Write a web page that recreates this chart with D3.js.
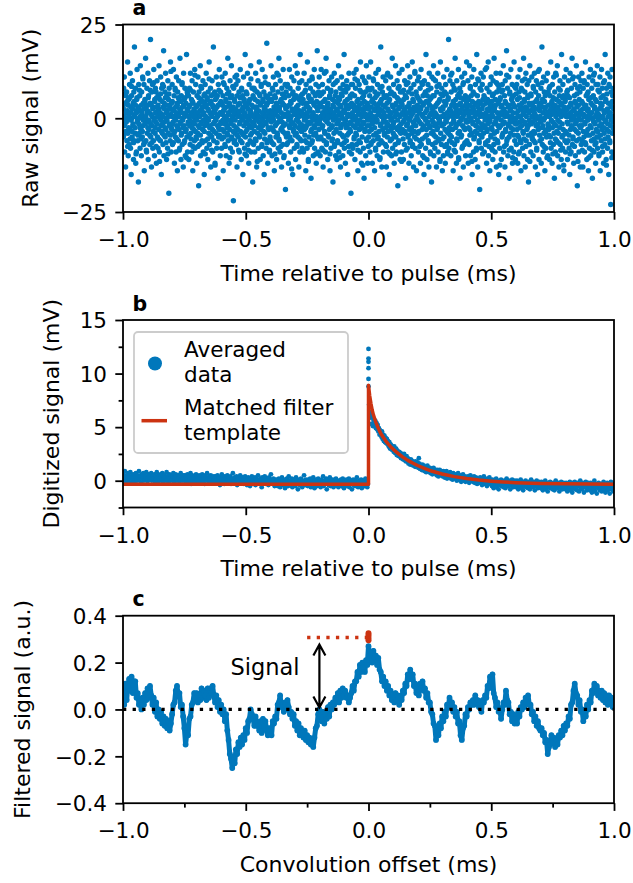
<!DOCTYPE html>
<html><head><meta charset="utf-8">
<script src="https://cdn.jsdelivr.net/npm/d3@7"></script>
<style>body{margin:0;background:#fff}text{font-family:"DejaVu Sans",sans-serif;fill:#000}</style>
</head><body><svg id="fig" width="633" height="883"></svg>
<script>
// ---------- DATA ----------
const xTicks = [-1, -0.5, 0, 0.5, 1];
const aTicks = [-25, 0, 25];
const bTicks = [0, 5, 10, 15];
const bMinorY = [-2.5, 2.5, 7.5, 12.5];
const cTicks = [-0.4, -0.2, 0, 0.2, 0.4];
const cMinorX = [-0.75, -0.25, 0.25, 0.75];

// panel a: raw signal (mV); two interleaved sample sets, each evenly spread over -1 ... 1 ms
const rawSignal = [
3,-5,8,-2,11,-9,0,4,-13,6,-1,7,-6,2,15,-4,-10,5,1,-7,9,-3,12,-8,3,-15,6,0,-5,10,-2,4,-11,7,-6,19,1,-4,8,-12,2,-9,5,13,-1,-6,3,-17,9,0,
-4,6,-8,14,2,-3,-10,7,1,-5,11,-2,4,-7,9,-14,0,5,-1,16,-6,3,-9,8,-4,2,12,-11,6,-3,-1,10,-7,4,21,-5,1,-13,7,-2,9,-8,3,-6,13,0,-10,5,-4,8,
-1,7,-12,3,10,-5,2,-8,6,-3,14,-9,0,5,-6,11,-2,-15,8,1,-4,9,-7,3,18,-10,4,-1,7,-5,12,-3,0,-11,6,2,-8,10,-4,5,-20,8,-2,3,-6,15,1,-9,4,-3,
9,-7,2,-1,13,-4,6,-12,0,8,-5,3,-9,11,-2,4,-14,7,1,-6,10,-3,5,-8,16,-1,2,-11,6,-4,9,-7,3,0,-13,12,-2,5,-6,8,-10,1,4,-3,17,-5,7,-9,2,-1,
6,-11,3,8,-2,-7,12,-4,1,5,-9,10,-1,-14,4,7,-3,2,-6,13,-8,0,9,-5,3,-12,6,1,-4,11,-2,-18,7,4,-7,2,14,-10,5,-1,8,-6,3,-3,10,-9,1,6,-15,4,
-2,9,-6,3,12,-1,-8,5,0,-11,7,2,-4,15,-7,4,-2,8,-13,1,6,-5,10,-3,-9,3,19,-6,2,-1,7,-12,5,0,-4,11,-8,3,6,-2,-16,9,-5,1,13,-3,4,-10,7,-1,
4,-8,11,-3,1,6,-14,2,-5,9,0,-7,12,-1,5,-10,3,8,-4,-2,16,-6,1,7,-12,4,-3,10,-8,2,-1,14,-5,6,-9,0,3,-22,8,-2,5,-6,11,-4,1,9,-7,2,-13,6,
-3,10,-5,1,7,-9,4,-1,13,-6,2,-11,8,0,-4,6,-15,3,11,-2,5,-8,1,17,-5,-1,7,-10,3,-3,12,-7,4,0,-12,9,-2,5,-6,2,14,-9,1,-4,8,-1,-17,6,3,-7,
8,-2,-9,5,0,12,-6,3,-13,7,1,-4,10,-8,2,-1,15,-5,6,-11,4,-3,9,0,-7,13,-2,5,-10,1,7,-15,3,-4,11,-1,6,-8,2,20,-6,4,-12,0,9,-3,5,-9,1,-5,
2,-6,14,-1,5,-10,8,-3,0,11,-7,3,-14,6,1,-2,9,-5,4,-11,12,-4,2,7,-8,-1,16,-6,3,-9,10,0,-3,5,-13,8,-1,4,-7,13,-2,6,-10,1,-4,9,-19,3,7,-5,
-7,3,9,-4,1,-12,6,-2,13,-5,8,0,-9,4,-1,11,-6,2,-15,7,-3,5,10,-8,1,-2,14,-11,6,-4,3,-7,12,0,-5,8,-1,-13,5,2,-9,17,-3,6,-6,1,10,-8,4,-2,
5,-9,1,12,-3,7,-6,0,-14,9,-2,4,-8,15,-1,3,-11,6,-5,10,2,-7,8,-1,-16,5,-3,11,-6,1,7,-10,4,-2,13,-8,0,6,-4,9,-12,3,-1,18,-5,2,-9,7,-3,11,
-1,6,-10,4,-5,13,0,-8,3,9,-2,-13,7,1,-6,12,-4,5,-9,2,16,-7,3,-1,8,-11,4,0,-5,10,-3,6,-14,2,7,-8,1,11,-6,-2,5,-17,9,3,-4,12,-7,0,6,-10,
7,-3,2,-11,10,-6,4,-1,14,-9,1,5,-4,8,-13,3,-2,11,-7,6,0,-10,9,-5,2,17,-8,4,-1,-12,7,3,-6,10,-2,5,-15,8,1,-4,12,-9,3,-3,6,-1,-20,9,4,-7,
1,9,-8,3,-2,12,-5,6,-11,0,8,-4,13,-7,2,-1,10,-14,5,3,-6,9,-3,1,-9,15,-2,7,-12,4,-5,11,-1,2,-8,6,-16,10,3,-3,7,-10,1,14,-6,4,-2,-12,8,0,
-5,11,-2,6,-9,1,15,-7,3,-3,8,-12,5,0,-6,10,-1,4,-14,7,2,-8,12,-4,6,-1,-10,9,3,-5,13,-7,1,4,-11,8,-2,19,-6,5,-13,2,7,-3,11,-9,0,6,-4,-1,
3,-7,10,-1,-13,6,4,-5,12,-9,2,-2,8,-15,5,1,-6,11,-3,7,-10,0,16,-8,3,-4,9,-1,-12,6,2,-7,14,-5,4,-9,1,10,-3,-18,8,5,-6,12,-2,3,-11,7,-4,1,
-9,4,13,-3,7,-1,-11,5,2,-7,10,-4,6,-16,1,9,-2,3,-8,14,-5,0,7,-12,4,-3,11,-6,2,8,-10,1,-4,15,-7,5,-1,-13,9,3,-5,12,-8,2,-2,7,-14,6,0,10,
-4,2,-9,11,5,-1,-6,8,-12,3,13,-7,1,-3,9,-10,6,-2,4,-15,10,0,-5,7,-8,17,-3,2,-11,6,-1,9,-6,4,-13,12,-2,5,-9,1,8,-4,-17,11,3,-7,6,-1,14,-10,
6,-2,-8,3,10,-5,1,-13,7,-3,4,12,-9,0,-6,9,-1,5,-11,15,-4,2,-7,8,-2,-14,6,3,-10,11,-5,1,7,-3,-12,9,4,-1,-7,13,0,-9,5,-4,21,-8,2,-6,10,-3,
2,-10,7,-5,12,1,-3,9,-14,4,-1,8,-7,3,16,-9,5,-2,-12,10,-6,1,6,-4,13,-11,2,-1,8,-16,4,7,-5,0,11,-8,3,-2,9,-13,5,1,-7,12,-3,6,-10,2,-1,15,
-6,3,-1,10,-12,5,2,-7,14,-3,8,-10,0,6,-4,11,-15,3,-1,7,-9,13,2,-5,4,-11,9,-2,1,-8,17,-4,6,-13,3,-1,10,-6,2,-19,8,4,-3,12,-8,1,-5,9,-2,5,
11,-4,6,-9,1,-2,13,-7,4,0,-12,8,-3,5,-6,15,-10,2,7,-1,-14,9,3,-5,11,-8,1,-3,6,-11,10,2,-7,16,-4,3,-9,5,-1,12,-13,7,0,-6,9,-2,4,-15,8,1,
-8,5,12,-2,3,-11,7,-5,9,1,-4,14,-9,2,-1,6,-13,10,-3,4,-7,18,-6,1,8,-10,3,-2,11,-5,-16,7,2,-4,13,-8,5,-1,9,-12,4,-3,6,-9,15,0,-6,3,-11,8,
0,-7,9,-3,5,-12,11,2,-5,7,-9,-1,13,-6,3,-14,8,-2,4,10,-8,1,-4,16,-10,5,-1,7,-13,3,12,-6,2,-3,9,-11,6,-2,-17,10,4,-7,14,-1,2,-9,6,-4,11,-5,
4,-1,-10,8,-6,3,12,-4,1,-13,7,-2,10,-8,5,0,-15,9,-3,6,-11,13,2,-6,4,-1,8,-12,3,19,-7,5,-2,-9,11,-4,7,0,-14,6,3,-8,10,-5,1,-3,12,-10,7,-2,
-3,8,-11,2,6,-5,15,-8,1,4,-12,9,-1,3,-7,11,-4,-16,7,2,-9,12,-2,5,-6,1,14,-10,3,-4,8,-13,6,-1,10,-7,2,4,-11,17,-5,1,-8,9,-3,6,-14,3,11,-6,
5,-9,2,13,-4,7,-1,-11,6,-6,10,3,-8,1,-15,12,-3,4,-9,8,-2,16,-7,2,-5,11,-12,0,6,-3,9,-10,4,-1,14,-6,3,-18,8,1,-4,11,-9,5,-2,7,-13,2,10,-7,
-2,12,-6,4,-13,8,1,-5,10,-9,3,-1,15,-7,6,-4,-11,9,2,-3,7,-14,5,11,-8,1,-2,13,-10,4,-6,8,0,-16,10,-4,6,-1,-9,12,3,-7,5,-12,9,-3,1,-5,14,-8,
9,-5,1,-10,7,-2,11,-14,4,3,-6,13,-3,8,-9,0,6,-12,2,-4,10,-7,17,-1,5,-11,8,-3,2,-8,12,-5,4,-15,9,1,-6,11,-2,-23,7,3,-9,13,-4,6,-1,-10,8,-3
];
const rawSignalHalf = [
2.5,-4.5,0.5,-1.5,6.5,-3.5,1.5,-0.5,4.5,-7.5,3.5,-2.5,0.5,5.5,-5.5,1.5,-0.5,8.5,-3.5,2.5,-1.5,-6.5,4.5,0.5,-2.5,3.5,-9.5,1.5,5.5,-0.5,-4.5,2.5,-1.5,7.5,-2.5,0.5,-5.5,3.5,1.5,-3.5,10.5,-0.5,2.5,-6.5,4.5,-1.5,0.5,-8.5,3.5,1.5,
-2.5,5.5,-0.5,1.5,-4.5,7.5,-1.5,3.5,-6.5,0.5,2.5,-3.5,9.5,-0.5,4.5,-2.5,1.5,-7.5,5.5,-1.5,0.5,3.5,-5.5,2.5,-11.5,1.5,6.5,-0.5,-3.5,4.5,-1.5,0.5,8.5,-4.5,2.5,-2.5,5.5,-6.5,1.5,-0.5,3.5,-9.5,0.5,6.5,-1.5,2.5,-4.5,12.5,-2.5,0.5,
4.5,-1.5,-6.5,2.5,0.5,-3.5,7.5,-0.5,1.5,-5.5,3.5,-2.5,5.5,0.5,-8.5,2.5,-1.5,4.5,-4.5,1.5,9.5,-0.5,-2.5,3.5,-6.5,0.5,5.5,-3.5,1.5,-10.5,2.5,6.5,-1.5,0.5,-4.5,3.5,-0.5,7.5,-5.5,1.5,-2.5,4.5,-7.5,0.5,2.5,-1.5,11.5,-3.5,1.5,-5.5,
-0.5,3.5,-7.5,1.5,5.5,-2.5,0.5,-4.5,8.5,-1.5,2.5,-6.5,4.5,-0.5,1.5,-3.5,6.5,-9.5,0.5,3.5,-1.5,5.5,-5.5,2.5,-0.5,10.5,-2.5,1.5,-4.5,4.5,-8.5,0.5,3.5,-1.5,6.5,-3.5,1.5,-12.5,2.5,-0.5,5.5,-6.5,0.5,3.5,-2.5,7.5,-4.5,1.5,-1.5,4.5,
1.5,-5.5,3.5,-0.5,9.5,-3.5,2.5,-1.5,-7.5,4.5,0.5,-2.5,6.5,-4.5,1.5,-0.5,3.5,-10.5,5.5,-1.5,2.5,-5.5,0.5,8.5,-3.5,1.5,-6.5,4.5,-0.5,2.5,-2.5,11.5,-4.5,0.5,3.5,-8.5,1.5,-1.5,5.5,-3.5,0.5,7.5,-6.5,2.5,-0.5,-4.5,4.5,1.5,-9.5,3.5,
-3.5,0.5,6.5,-1.5,2.5,-8.5,4.5,-0.5,1.5,-4.5,10.5,-2.5,3.5,-6.5,0.5,5.5,-1.5,-3.5,7.5,-5.5,1.5,2.5,-0.5,-11.5,4.5,-2.5,0.5,6.5,-4.5,3.5,-1.5,8.5,-7.5,1.5,-0.5,4.5,-3.5,2.5,-5.5,9.5,0.5,-1.5,3.5,-6.5,5.5,-2.5,1.5,-0.5,-8.5,6.5,
0.5,-2.5,4.5,-6.5,1.5,7.5,-0.5,-3.5,2.5,-9.5,5.5,1.5,-1.5,3.5,-4.5,0.5,11.5,-5.5,2.5,-0.5,4.5,-7.5,1.5,-2.5,6.5,-3.5,0.5,-10.5,3.5,5.5,-1.5,2.5,-4.5,0.5,8.5,-6.5,1.5,-0.5,3.5,-2.5,-5.5,4.5,0.5,-13.5,2.5,6.5,-1.5,-3.5,1.5,5.5,
-4.5,2.5,-0.5,5.5,-7.5,1.5,3.5,-2.5,0.5,9.5,-5.5,-1.5,4.5,-3.5,1.5,6.5,-8.5,0.5,2.5,-0.5,-4.5,7.5,-2.5,3.5,-6.5,1.5,0.5,-11.5,5.5,-1.5,2.5,4.5,-3.5,0.5,-6.5,10.5,-0.5,1.5,-4.5,3.5,-2.5,6.5,-9.5,0.5,4.5,-1.5,2.5,-5.5,8.5,-0.5,
3.5,-1.5,0.5,-5.5,6.5,-2.5,1.5,-8.5,4.5,0.5,-3.5,2.5,-0.5,12.5,-6.5,1.5,3.5,-4.5,0.5,-1.5,5.5,-9.5,2.5,7.5,-2.5,0.5,-5.5,3.5,-0.5,1.5,-7.5,4.5,9.5,-3.5,0.5,-1.5,2.5,-6.5,5.5,-0.5,1.5,-10.5,3.5,-2.5,6.5,0.5,-4.5,1.5,-1.5,7.5,
-6.5,1.5,4.5,-0.5,-2.5,8.5,-4.5,0.5,2.5,-7.5,3.5,-1.5,5.5,-3.5,0.5,-9.5,6.5,1.5,-0.5,3.5,-5.5,2.5,10.5,-2.5,0.5,-4.5,4.5,-1.5,-8.5,1.5,3.5,-0.5,7.5,-6.5,2.5,-2.5,0.5,5.5,-12.5,1.5,-1.5,4.5,-3.5,0.5,9.5,-5.5,2.5,-0.5,3.5,-7.5,
2.5,-3.5,7.5,-0.5,1.5,-6.5,4.5,-1.5,0.5,10.5,-4.5,2.5,-2.5,5.5,-8.5,0.5,3.5,-0.5,-5.5,6.5,1.5,-3.5,2.5,-10.5,4.5,-1.5,0.5,8.5,-6.5,3.5,-0.5,1.5,-4.5,5.5,-2.5,0.5,-7.5,11.5,-1.5,2.5,-3.5,4.5,0.5,-9.5,6.5,-0.5,1.5,-5.5,3.5,-2.5,
-1.5,6.5,-4.5,0.5,3.5,-9.5,1.5,-2.5,5.5,-0.5,-6.5,2.5,8.5,-3.5,0.5,4.5,-1.5,-11.5,3.5,1.5,-5.5,7.5,-0.5,2.5,-3.5,0.5,-8.5,5.5,1.5,-1.5,9.5,-4.5,3.5,-0.5,-6.5,2.5,0.5,-2.5,6.5,-7.5,1.5,4.5,-1.5,-3.5,12.5,-0.5,2.5,-5.5,0.5,3.5,
5.5,-0.5,-3.5,1.5,-7.5,4.5,2.5,-1.5,9.5,-5.5,0.5,3.5,-2.5,-10.5,6.5,1.5,-0.5,4.5,-4.5,2.5,-1.5,7.5,-6.5,0.5,3.5,-2.5,-9.5,5.5,1.5,-0.5,2.5,-3.5,10.5,-4.5,0.5,1.5,-6.5,3.5,-1.5,8.5,-2.5,0.5,-5.5,4.5,-0.5,-11.5,2.5,6.5,-1.5,0.5,
-5.5,2.5,0.5,-1.5,4.5,-7.5,3.5,-0.5,6.5,-3.5,1.5,-9.5,5.5,0.5,-2.5,2.5,-4.5,11.5,-1.5,3.5,-6.5,0.5,4.5,-0.5,-8.5,1.5,7.5,-2.5,2.5,-5.5,0.5,3.5,-1.5,-10.5,6.5,-3.5,1.5,5.5,-0.5,-4.5,2.5,-7.5,0.5,9.5,-2.5,1.5,-6.5,3.5,-0.5,4.5,
1.5,-6.5,5.5,-2.5,0.5,3.5,-4.5,8.5,-0.5,1.5,-11.5,4.5,-1.5,2.5,-5.5,6.5,0.5,-3.5,1.5,-8.5,3.5,-0.5,10.5,-2.5,4.5,-6.5,1.5,0.5,-4.5,7.5,-1.5,2.5,-9.5,3.5,0.5,-2.5,5.5,-0.5,-6.5,1.5,13.5,-3.5,2.5,-1.5,0.5,-7.5,4.5,-0.5,3.5,-4.5,
-2.5,4.5,-8.5,0.5,6.5,-1.5,2.5,-5.5,3.5,-0.5,9.5,-3.5,1.5,-6.5,4.5,0.5,-2.5,-12.5,5.5,1.5,-0.5,3.5,-4.5,7.5,-1.5,2.5,-7.5,0.5,4.5,-3.5,1.5,11.5,-5.5,0.5,-1.5,3.5,-8.5,6.5,-0.5,2.5,-2.5,0.5,5.5,-10.5,1.5,3.5,-4.5,8.5,-0.5,-1.5,
6.5,-1.5,1.5,-4.5,0.5,-9.5,3.5,5.5,-2.5,0.5,-6.5,2.5,-0.5,7.5,-3.5,1.5,-5.5,4.5,10.5,-1.5,-7.5,0.5,2.5,-2.5,5.5,-4.5,1.5,-0.5,-11.5,3.5,6.5,-1.5,0.5,-5.5,2.5,8.5,-3.5,1.5,-0.5,-6.5,4.5,0.5,-8.5,2.5,-1.5,12.5,-2.5,3.5,-4.5,0.5,
-0.5,3.5,-5.5,9.5,-2.5,1.5,-0.5,-7.5,4.5,2.5,-3.5,0.5,6.5,-10.5,1.5,-1.5,3.5,-4.5,0.5,8.5,-6.5,2.5,-0.5,4.5,-2.5,-9.5,5.5,1.5,-1.5,3.5,-5.5,0.5,11.5,-3.5,2.5,-0.5,-6.5,4.5,1.5,-2.5,7.5,-8.5,0.5,3.5,-1.5,5.5,-4.5,-12.5,2.5,1.5,
4.5,-3.5,0.5,-6.5,2.5,7.5,-1.5,0.5,-4.5,5.5,-9.5,1.5,3.5,-0.5,-2.5,10.5,-5.5,0.5,2.5,-7.5,4.5,-1.5,1.5,-3.5,6.5,-0.5,-11.5,3.5,0.5,-5.5,8.5,-2.5,1.5,-0.5,4.5,-8.5,2.5,-3.5,0.5,9.5,-1.5,-6.5,3.5,0.5,-4.5,6.5,-0.5,2.5,-10.5,1.5,
-4.5,0.5,5.5,-2.5,1.5,-8.5,3.5,-0.5,11.5,-5.5,2.5,-1.5,0.5,-6.5,4.5,1.5,-3.5,7.5,-0.5,-9.5,2.5,0.5,-4.5,5.5,-1.5,3.5,-7.5,0.5,9.5,-2.5,1.5,-5.5,4.5,-0.5,-12.5,6.5,2.5,-1.5,0.5,-3.5,8.5,-6.5,1.5,3.5,-0.5,-10.5,4.5,0.5,-2.5,2.5
];

// panel b: averaged data (mV) before the pulse (-1 ... 0 ms) and after (0 ... 1 ms)
const avgBefore = [
0.6,0.1,0.4,0.9,0.2,-0.1,0.5,0.3,0.7,0.0,0.4,0.2,0.8,-0.2,0.3,0.5,0.1,0.6,0.3,-0.1,0.4,0.7,0.2,0.0,0.5,0.3,0.9,0.1,0.4,-0.2,0.6,0.2,0.3,0.7,0.0,0.5,0.1,0.4,0.8,0.2,-0.1,0.3,0.6,0.1,0.4,0.2,0.7,0.0,0.3,0.5,
0.2,0.6,-0.1,0.4,0.1,0.8,0.3,-0.2,0.5,0.2,0.0,0.6,0.3,0.1,0.7,-0.1,0.4,0.2,0.5,0.0,0.3,0.8,0.1,0.4,-0.2,0.3,0.6,0.2,0.0,0.5,0.1,0.4,0.7,-0.1,0.2,0.3,0.6,0.0,0.4,0.1,0.5,0.2,-0.2,0.3,0.7,0.1,0.4,0.0,0.2,0.5,
0.1,0.5,-0.2,0.3,0.0,0.6,0.2,-0.1,0.4,0.1,0.7,-0.3,0.2,0.5,0.0,0.3,-0.1,0.4,0.2,0.6,0.1,-0.2,0.3,0.0,0.5,0.2,0.4,-0.1,0.1,0.6,0.3,0.0,0.2,-0.3,0.5,0.1,0.3,0.7,0.0,0.2,-0.1,0.4,0.1,0.5,0.2,-0.2,0.3,0.0,0.4,0.1,
0.0,0.4,-0.2,0.2,0.5,-0.1,0.1,0.3,-0.4,0.2,0.0,0.6,-0.1,0.3,0.1,-0.3,0.4,0.0,0.2,-0.2,0.5,0.1,-0.1,0.3,0.0,0.4,-0.3,0.2,0.1,0.7,-0.1,0.0,0.3,-0.2,0.2,0.4,-0.4,0.1,0.0,0.3,-0.1,0.5,0.2,-0.2,0.1,0.3,0.0,-0.3,0.2,0.4,
-0.2,0.2,-0.4,0.1,0.3,-0.1,0.0,-0.5,0.2,-0.2,0.4,0.0,-0.3,0.1,-0.1,0.3,-0.4,0.2,0.0,-0.2,0.5,-0.1,0.1,-0.3,0.2,0.0,-0.6,0.3,-0.1,0.1,-0.2,0.4,0.0,-0.3,0.2,-0.1,0.1,-0.4,0.3,0.0,-0.2,0.6,-0.1,0.1,-0.3,0.2,0.0,-0.5,0.1,-0.1,
-0.3,0.1,-0.5,-0.1,0.2,-0.2,-0.6,0.0,-0.3,0.3,-0.1,-0.4,0.1,-0.2,-0.7,0.0,-0.3,0.2,-0.1,-0.5,0.4,-0.2,0.0,-0.4,-0.1,0.2,-0.6,-0.2,0.1,-0.3,0.0,-0.5,0.3,-0.1,-0.2,-0.8,0.0,0.1,-0.4,-0.1,0.2,-0.3,-0.6,0.0,-0.2,0.5,-0.1,-0.4,0.1,-0.2,
-0.1,-0.5,0.1,-0.3,-0.2,0.2,-0.6,-0.1,0.0,-0.4,0.3,-0.2,-0.7,0.0,-0.3,0.1,-0.5,-0.1,0.2,-0.4,-0.2,0.0,-0.6,0.1,-0.3,-0.1,0.4,-0.5,-0.2,0.0,-0.3,0.2,-0.8,-0.1,0.1,-0.4,-0.2,0.3,-0.5,0.0,-0.3,-0.1,0.1,-0.6,-0.2,0.0,-0.4,0.2,-0.1,-0.3,
-0.2,-0.6,0.0,-0.4,-0.1,0.1,-0.5,-0.3,0.2,-0.2,-0.7,-0.1,0.0,-0.4,0.1,-0.3,-0.5,-0.2,0.2,-0.6,-0.1,-0.3,0.0,-0.8,-0.2,0.1,-0.4,-0.1,-0.5,0.0,-0.3,0.3,-0.2,-0.6,-0.1,0.0,-0.4,-0.2,0.1,-0.7,-0.3,0.0,-0.1,-0.5,-0.2,0.2,-0.4,-0.1,-0.6,-0.3
];
const avgAfter = [
8.8,7.1,6.2,5.9,6.4,5.3,6.0,5.1,5.7,5.5,
5.3,5.6,4.9,5.4,4.8,5.2,4.6,4.9,4.3,4.7,
4.5,4.1,4.6,3.9,4.3,3.7,4.2,3.6,4.0,3.5,
3.9,3.4,3.7,3.2,3.6,3.0,3.4,3.3,2.9,3.2,
3.1,2.7,3.2,2.6,2.9,3.0,2.4,2.8,2.7,2.3,
2.7,2.3,2.6,2.1,2.5,2.4,2.0,2.3,2.5,1.9,
2.2,1.8,2.3,1.9,2.1,1.6,2.0,1.9,1.5,2.0,
1.9,1.5,1.8,1.4,1.7,1.6,1.3,1.8,1.4,1.5,
1.7,1.2,2.1,1.6,1.1,1.4,1.3,1.0,1.5,1.2,
1.4,0.9,1.3,1.2,0.8,1.1,1.4,0.9,1.0,1.2,
1.2,0.7,1.0,1.1,0.6,0.9,1.2,0.7,0.8,1.0,
0.9,0.5,1.0,0.8,0.4,0.7,1.0,0.6,0.5,0.9,
0.8,0.4,0.9,0.6,0.3,0.7,0.5,0.9,0.2,0.6,0.7,0.3,0.5,0.8,0.2,0.6,0.4,0.1,0.7,0.4,
0.5,0.2,0.6,0.3,0.0,0.4,0.7,0.1,0.3,0.5,0.2,-0.1,0.4,0.3,0.6,0.0,0.2,0.4,-0.1,0.3,
0.3,0.0,0.4,0.1,-0.2,0.2,0.5,0.0,0.1,0.3,-0.1,0.2,0.4,-0.2,0.0,0.3,0.1,-0.3,0.2,0.0,
0.1,-0.2,0.3,-0.1,0.0,-0.4,0.2,-0.1,0.4,-0.3,0.0,-0.2,0.1,-0.5,0.2,-0.1,0.0,0.3,-0.3,-0.1,
-0.1,-0.5,0.1,-0.3,-0.7,0.0,-0.2,-0.4,0.2,-0.6,-0.3,-0.1,-0.8,0.0,-0.4,-0.2,0.1,-0.5,-0.3,-0.1,-0.6,0.0,-0.3,-0.7,-0.1,0.2,-0.4,-0.2,-0.5,0.0,-0.3,-0.8,-0.1,-0.4,0.1,-0.2,-0.6,-0.3,0.0,-0.5,
-0.2,-0.6,0.0,-0.4,-0.8,-0.1,-0.3,-0.5,0.1,-0.7,-0.4,-0.2,-0.9,-0.1,-0.5,-0.3,0.0,-0.6,-0.4,-0.2,-0.7,-0.1,-0.4,-0.8,-0.2,0.1,-0.5,-0.3,-0.6,-0.1,-0.4,-0.9,-0.2,-0.5,0.0,-0.3,-0.7,-0.4,-0.1,-0.6,
-0.3,-0.7,-0.1,-0.5,-0.9,-0.2,-0.4,-0.6,0.0,-0.8,-0.5,-0.3,-1.0,-0.2,-0.6,-0.4,-0.1,-0.7,-0.5,-0.3,-0.8,-0.2,-0.5,-0.9,-0.3,0.0,-0.6,-0.4,-0.7,-0.2,-0.5,-1.0,-0.3,-0.6,-0.1,-0.4,-0.8,-0.5,-0.2,-0.7,
-0.4,-0.8,-0.2,-0.6,-1.0,-0.3,-0.5,-0.7,-0.1,-0.9,-0.5,-0.3,-1.1,-0.2,-0.7,-0.4,-0.1,-0.8,-0.6,-0.3,-0.9,-0.2,-0.5,-1.0,-0.4,0.0,-0.7,-0.5,-0.8,-0.2,-0.6,-1.1,-0.3,-0.6,-0.1,-0.5,-0.9,-0.4,-0.2,-0.7,
-0.5,-0.9,-0.2,-0.6,-1.1,-0.3,-0.5,-0.8,0.0,-1.0,-0.6,-0.3,-1.2,-0.4,-0.7,-0.2,-0.5,-0.9,-0.6,-0.3,-1.0,-0.4,-0.7,-0.1,-0.8,-0.5,-1.1,-0.3,-0.6,-0.2,-0.9,-0.5,-0.7,-1.2,-0.4,-0.1,-0.8,-0.6,-0.3,-1.0,-0.5
];
const avgSpike = [12.3, 11.4, 11.1, 10.5, 9.5];

// matched filter template (time ms, value mV)
const templateT = [-1, 0, 0, 0.005, 0.01, 0.015, 0.02, 0.03, 0.04, 0.05, 0.06, 0.07, 0.08, 0.09, 0.1, 0.12, 0.14, 0.16, 0.18, 0.2, 0.23, 0.26, 0.3, 0.35, 0.4, 0.45, 0.5, 0.55, 0.6, 0.7, 0.8, 0.9, 1.0];
const templateV = [-0.34, -0.34, 8.9, 7.9, 7.2, 6.6, 6.15, 5.45, 4.9, 4.4, 4.05, 3.72, 3.44, 3.18, 2.95, 2.55, 2.2, 1.9, 1.65, 1.42, 1.12, 0.88, 0.63, 0.38, 0.2, 0.06, -0.04, -0.12, -0.18, -0.25, -0.29, -0.31, -0.32];

// panel c: filtered signal (a.u.), evenly sampled from -1 to 1 ms
const filtered = [
0.09,0.02,0.11,0.04,0.10,0.13,0.08,0.14,0.07,0.12,
0.12,0.05,0.07,0.02,0.04,0.00,0.05,0.02,0.07,0.04,
0.09,0.05,0.10,0.06,0.02,0.05,-0.01,0.03,-0.03,0.00,
-0.04,-0.01,-0.06,-0.03,-0.07,-0.04,-0.08,-0.05,-0.09,-0.06,
-0.02,0.02,0.03,0.08,0.10,0.06,0.07,0.01,0.02,-0.03,
-0.08,-0.15,-0.10,-0.11,-0.04,-0.03,0.02,0.03,0.07,0.05,
0.07,0.03,0.06,0.04,0.09,0.05,0.08,0.06,0.04,0.09,
0.05,0.09,0.07,0.10,0.06,0.03,0.06,0.01,0.04,-0.01,
0.02,-0.02,0.00,-0.05,-0.02,-0.09,-0.13,-0.19,-0.21,-0.25,
-0.20,-0.23,-0.17,-0.19,-0.14,-0.16,-0.12,-0.15,-0.11,-0.13,
-0.08,-0.10,-0.05,-0.04,0.00,-0.02,-0.04,-0.07,-0.03,-0.07,
-0.06,-0.09,-0.05,-0.10,-0.04,-0.07,-0.05,-0.09,-0.11,-0.08,
-0.09,-0.11,-0.05,-0.06,-0.03,-0.04,0.02,0.03,0.06,0.01,
0.01,-0.01,0.03,0.00,0.04,0.01,-0.02,-0.01,-0.04,-0.02,
-0.07,-0.05,-0.09,-0.06,-0.11,-0.08,-0.10,-0.12,-0.09,-0.13,
-0.11,-0.14,-0.12,-0.15,-0.13,-0.16,-0.12,-0.08,-0.07,-0.02,
0.00,-0.03,-0.05,-0.01,-0.06,-0.02,-0.04,0.01,-0.03,0.02,
0.00,0.03,0.02,0.05,0.04,0.07,0.03,0.08,0.05,0.09,
0.06,0.08,0.05,0.06,0.03,0.05,0.07,0.10,0.08,0.12,
0.12,0.16,0.14,0.19,0.16,0.20,0.18,0.16,0.21,0.19,
0.27,0.22,0.24,0.20,0.25,0.22,0.23,0.19,0.22,0.17,
0.16,0.12,0.14,0.10,0.12,0.08,0.10,0.06,0.08,0.04,
0.06,0.03,0.07,0.04,0.06,0.02,0.05,0.04,0.08,0.07,
0.11,0.10,0.15,0.13,0.17,0.13,0.15,0.10,0.11,0.07,
0.09,0.06,0.11,0.09,0.12,0.08,0.09,0.05,0.07,0.03,
0.03,-0.01,-0.02,-0.06,-0.07,-0.13,-0.09,-0.11,-0.06,-0.08,
-0.03,-0.05,-0.01,-0.03,0.02,0.01,0.05,0.02,0.03,-0.01,
0.01,-0.03,-0.01,-0.06,-0.05,-0.11,-0.13,-0.08,-0.07,-0.02,
-0.03,0.01,0.00,0.03,0.02,0.04,0.02,0.06,0.03,0.04,
0.01,0.02,-0.01,0.04,0.03,0.06,0.05,0.10,0.09,0.14,
0.12,0.15,0.07,0.05,0.01,0.03,-0.01,0.00,-0.04,0.00,
0.03,0.02,0.08,0.04,0.03,-0.02,-0.01,-0.05,-0.02,-0.06,
-0.04,-0.06,-0.01,-0.03,0.01,0.00,0.03,0.01,0.05,0.03,
0.06,0.02,0.02,-0.02,-0.01,-0.05,-0.03,-0.07,-0.05,-0.08,
-0.09,-0.08,-0.11,-0.10,-0.14,-0.13,-0.19,-0.16,-0.15,-0.11,
-0.14,-0.12,-0.16,-0.13,-0.15,-0.11,-0.12,-0.09,-0.11,-0.07,
-0.09,-0.06,-0.07,-0.03,-0.04,0.02,0.03,0.08,0.11,0.07,
0.06,0.02,0.04,-0.01,0.00,-0.05,-0.02,-0.03,0.02,0.00,
0.04,0.03,0.08,0.07,0.11,0.09,0.10,0.06,0.08,0.05,
0.08,0.04,0.07,0.03,0.06,0.02,0.06,0.03,0.05,0.01,0.03
];
const peakPoints = [0.295, 0.305, 0.315, 0.325];
const signalLevel = 0.307;
const signalStart = -0.25;
const arrowX = -0.2;

// ---------- DRAWING ----------
const BLUE = "#0077bb", RED = "#cc3311";
const L = 123, R = 614, PH = 187.5;
const TICK_FS = "21.5px", LABEL_FS = "22px";
const svg = d3.select("#fig");
svg.append("rect").attr("width", 633).attr("height", 883).attr("fill", "#fff");
const x = d3.scaleLinear([-1, 1], [L, R]);

function makePanel(id, top, ydom, yTicks, yFmt, opts) {
  const y = d3.scaleLinear(ydom, [top + PH, top]);
  const g = svg.append("g");
  svg.append("clipPath").attr("id", "clip" + id).append("rect")
    .attr("x", L).attr("y", top).attr("width", R - L).attr("height", PH);
  const plot = g.append("g").attr("clip-path", `url(#clip${id})`);
  const xa = g.append("g").attr("transform", `translate(0,${top + PH})`)
    .call(d3.axisBottom(x).tickValues(xTicks).tickSize(7.7).tickFormat(d3.format(".1f")));
  xa.selectAll("text").attr("y", 35).attr("dy", 0);
  const ya = g.append("g").attr("transform", `translate(${L},0)`)
    .call(d3.axisLeft(y).tickValues(yTicks).tickSize(7.7).tickPadding(8.3).tickFormat(yFmt));
  ya.selectAll("text").attr("dy", "0.36em");
  if (opts.minorY) g.append("g").attr("transform", `translate(${L},0)`)
    .call(d3.axisLeft(y).tickValues(opts.minorY).tickSize(4.4).tickFormat(""));
  if (opts.minorX) g.append("g").attr("transform", `translate(0,${top + PH})`)
    .call(d3.axisBottom(x).tickValues(opts.minorX).tickSize(4.4).tickFormat(""));
  g.selectAll(".domain").remove();
  g.selectAll(".tick line").attr("stroke", "#000").attr("stroke-width", 1.8);
  g.selectAll(".tick text").attr("font-size", TICK_FS).attr("font-family", "DejaVu Sans").attr("fill", "#000");
  g.append("text").attr("x", L + 9.5).attr("y", top - 9.5).attr("font-weight", "bold")
    .attr("font-size", "20.5px").text(id);
  g.append("text").attr("x", (L + R) / 2).attr("y", top + PH + 68.5).attr("text-anchor", "middle")
    .attr("font-size", LABEL_FS).text(opts.xLabel);
  g.append("text").attr("transform", `translate(${opts.yLabelX},${top + PH / 2}) rotate(-90)`)
    .attr("text-anchor", "middle").attr("font-size", LABEL_FS).text(opts.yLabel);
  return { g, plot, y, top, spine: () => g.append("rect").attr("x", L).attr("y", top).attr("width", R - L)
    .attr("height", PH).attr("fill", "none").attr("stroke", "#000").attr("stroke-width", 1.8) };
}

// ----- panel a
const pa = makePanel("a", 24.5, [-25, 25], aTicks, d3.format("d"),
  { xLabel: "Time relative to pulse (ms)", yLabel: "Raw signal (mV)", yLabelX: 37.5 });
const aPts = [];
rawSignal.forEach((v, i) => aPts.push([-1 + 2 * i / (rawSignal.length - 1), v]));
rawSignalHalf.forEach((v, i) => aPts.push([-1 + 2 * (i + 0.5) / rawSignalHalf.length, v]));
pa.plot.selectAll("circle").data(aPts).join("circle")
  .attr("cx", d => x(d[0])).attr("cy", d => pa.y(d[1])).attr("r", 2.7).attr("fill", BLUE);
pa.spine();

// ----- panel b
const pb = makePanel("b", 320, [-2.5, 15], bTicks, d3.format("d"),
  { xLabel: "Time relative to pulse (ms)", yLabel: "Digitized signal (mV)", yLabelX: 58.5, minorY: bMinorY });
const bPts = [];
avgBefore.forEach((v, i) => bPts.push([-1 + i / avgBefore.length, v]));
avgAfter.forEach((v, j) => bPts.push([j / (avgAfter.length - 1), v]));
avgSpike.forEach(v => bPts.push([0, v]));
pb.plot.selectAll("circle").data(bPts).join("circle")
  .attr("cx", d => x(d[0])).attr("cy", d => pb.y(d[1])).attr("r", 2.4).attr("fill", BLUE);
pb.plot.append("path").datum(templateT.map((t, i) => [t, templateV[i]]))
  .attr("d", d3.line().x(d => x(d[0])).y(d => pb.y(d[1])))
  .attr("fill", "none").attr("stroke", RED).attr("stroke-width", 3.5).attr("stroke-linejoin", "round");
pb.spine();
const lg = pb.g.append("g");
lg.append("rect").attr("x", 134).attr("y", 332).attr("width", 214).attr("height", 121).attr("rx", 4)
  .attr("fill", "#fff").attr("fill-opacity", 0.8).attr("stroke", "#cccccc").attr("stroke-width", 1.8);
lg.append("circle").attr("cx", 155).attr("cy", 363.5).attr("r", 7).attr("fill", BLUE);
lg.append("line").attr("x1", 141.5).attr("x2", 167).attr("y1", 420.7).attr("y2", 420.7)
  .attr("stroke", RED).attr("stroke-width", 3.5);
[["Averaged", 356.5], ["data", 382], ["Matched filter", 414.5], ["template", 440]].forEach(([s, yy]) =>
  lg.append("text").attr("x", 184).attr("y", yy).attr("font-size", "21.5px").text(s));

// ----- panel c
const pc = makePanel("c", 615.7, [-0.4, 0.4], cTicks, d3.format(".1f"),
  { xLabel: "Convolution offset (ms)", yLabel: "Filtered signal (a.u.)", yLabelX: 30, minorX: cMinorX });
const tC = filtered.map((v, i) => -1 + 2 * i / (filtered.length - 1));
pc.plot.append("path").datum(filtered)
  .attr("d", d3.line().x((d, i) => x(tC[i])).y(d => pc.y(d)))
  .attr("fill", "none").attr("stroke", BLUE).attr("stroke-width", 5).attr("stroke-linejoin", "round");
pc.plot.selectAll("circle.f").data(filtered).join("circle").attr("class", "f")
  .attr("cx", (d, i) => x(tC[i])).attr("cy", d => pc.y(d)).attr("r", 2.9).attr("fill", BLUE);
pc.plot.selectAll("circle.p").data(peakPoints).join("circle").attr("class", "p")
  .attr("cx", x(0)).attr("cy", d => pc.y(d)).attr("r", 3).attr("fill", RED);
pc.plot.append("line").attr("x1", x(-1)).attr("x2", x(1)).attr("y1", pc.y(0)).attr("y2", pc.y(0))
  .attr("stroke", "#000").attr("stroke-width", 3.3).attr("stroke-dasharray", "3.3,6.3");
pc.plot.append("line").attr("x1", x(signalStart)).attr("x2", x(0)).attr("y1", pc.y(signalLevel)).attr("y2", pc.y(signalLevel))
  .attr("stroke", RED).attr("stroke-width", 3.3).attr("stroke-dasharray", "3.3,6.3");
const ax = x(arrowX), aTop = pc.y(signalLevel) + 7, aBot = pc.y(0) - 2;
pc.g.append("path").attr("d", `M${ax},${aTop}L${ax},${aBot}M${ax - 6},${aTop + 11}L${ax},${aTop}L${ax + 6},${aTop + 11}M${ax - 6},${aBot - 11}L${ax},${aBot}L${ax + 6},${aBot - 11}`)
  .attr("fill", "none").attr("stroke", "#000").attr("stroke-width", 2.2);
pc.g.append("text").attr("x", 230.5).attr("y", 675).attr("font-size", "22.5px").text("Signal");
pc.spine();
</script></body></html>
